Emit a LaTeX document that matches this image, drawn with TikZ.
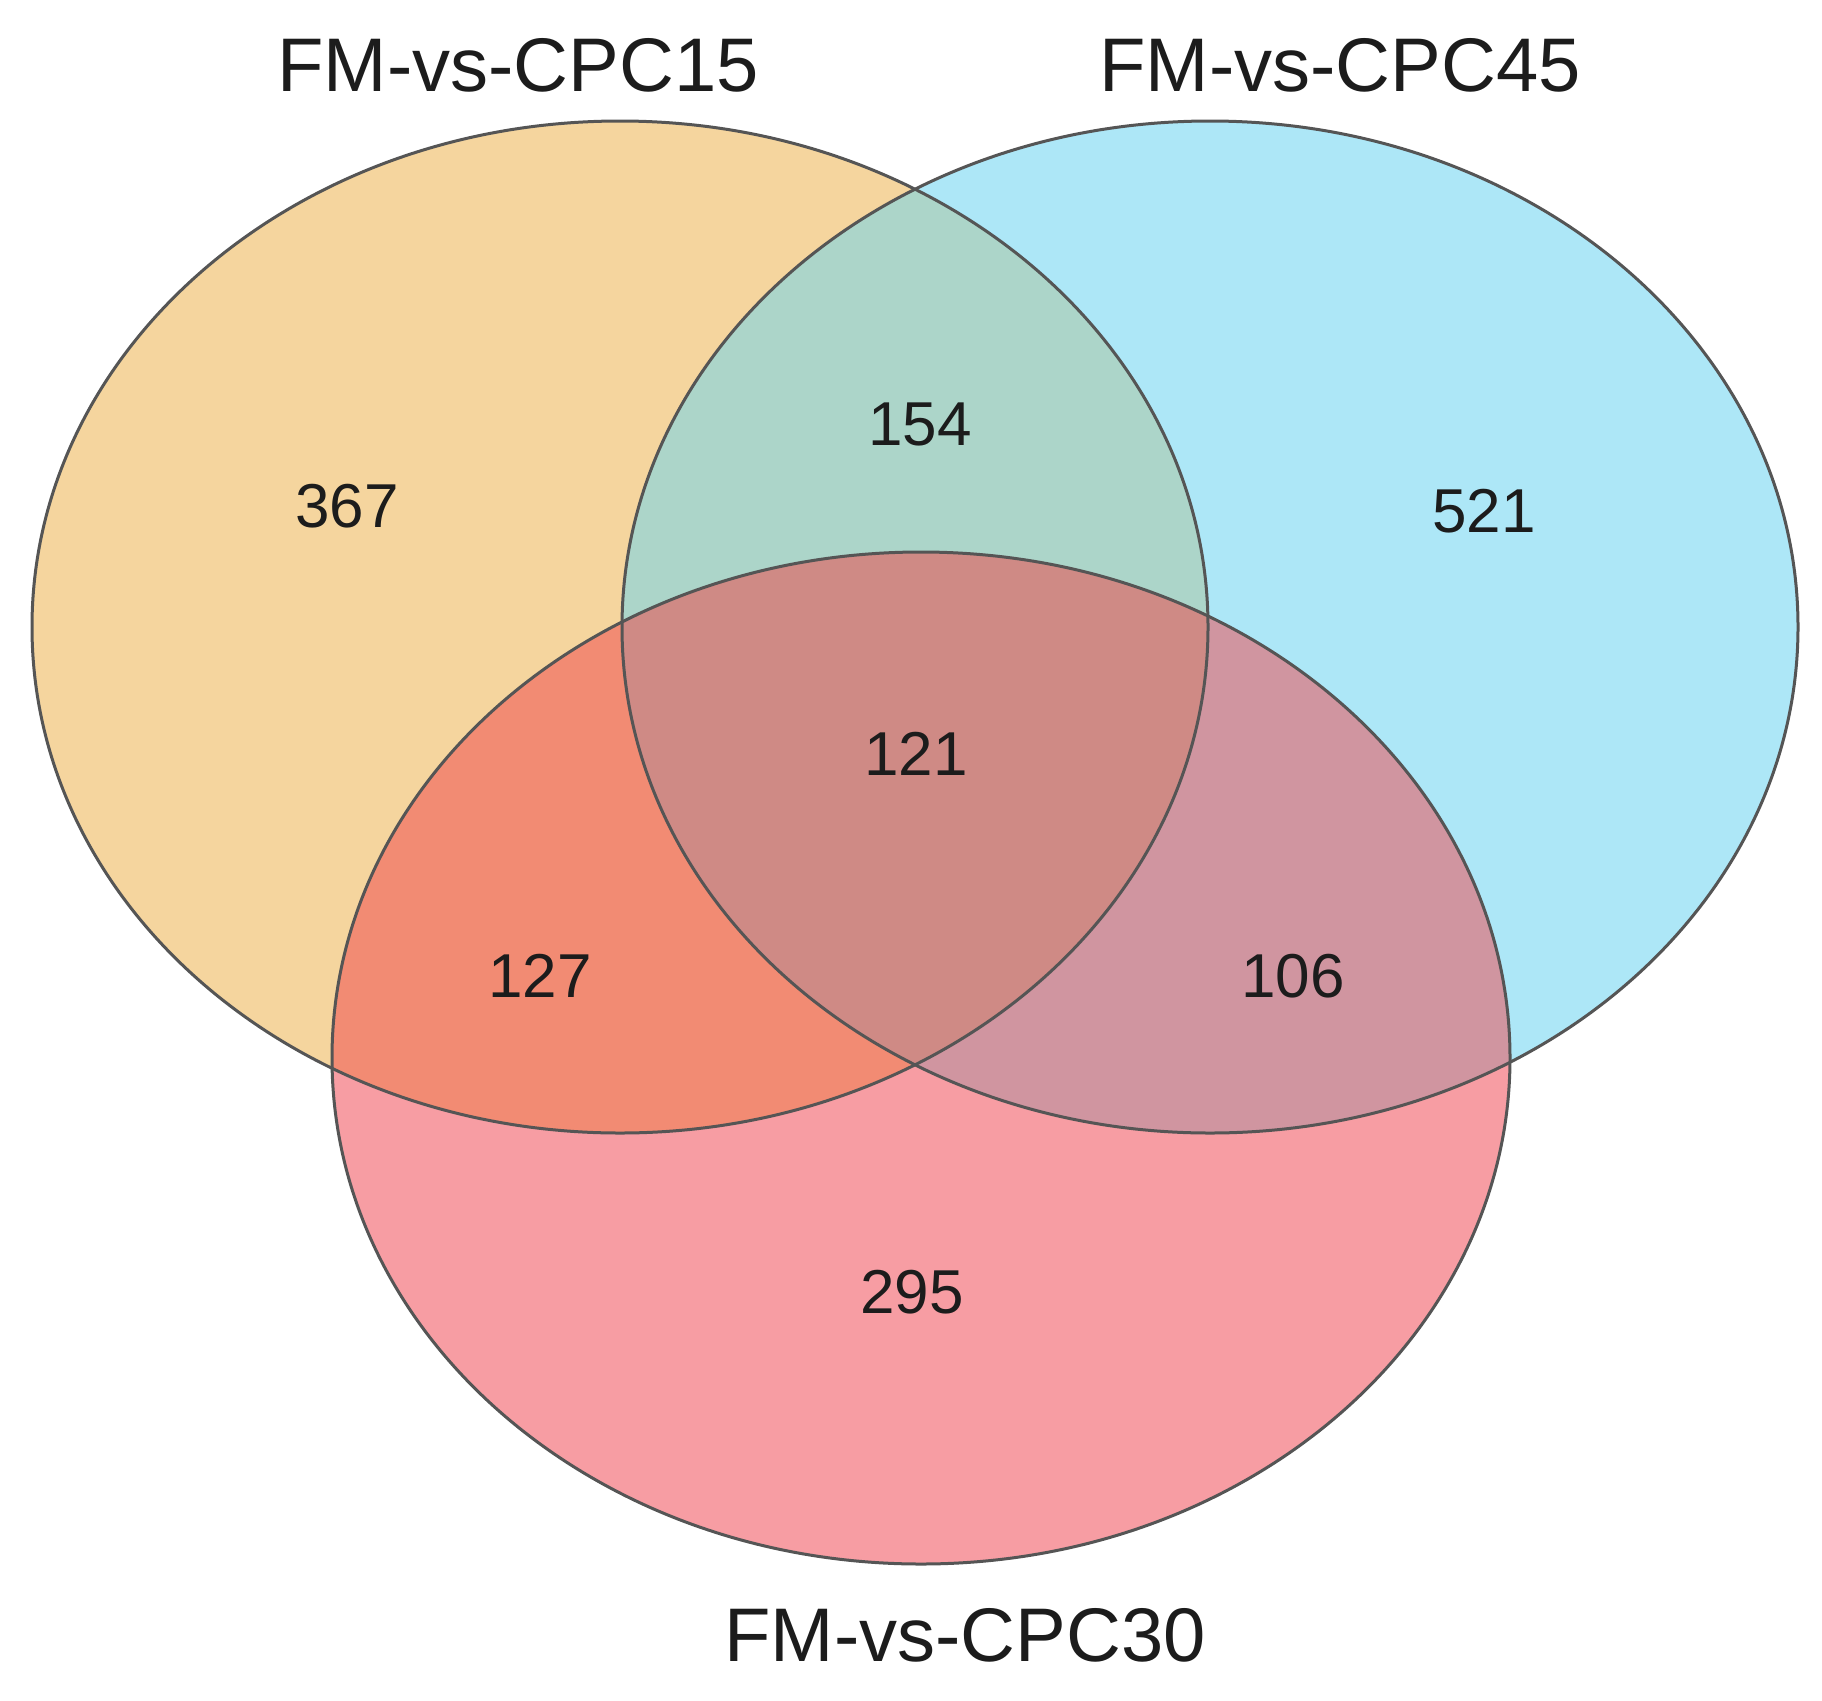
\documentclass[tikz,border=0pt]{standalone}
\usepackage{fontspec}
\setmainfont{Liberation Sans}
\definecolor{cL}{HTML}{F5D59E}
\definecolor{cR}{HTML}{ADE7F7}
\definecolor{cB}{HTML}{F79DA3}
\definecolor{cLR}{HTML}{ACD5C9}
\definecolor{cLB}{HTML}{F28B73}
\definecolor{cRB}{HTML}{D095A0}
\definecolor{cLRB}{HTML}{CF8A85}
\definecolor{edge}{HTML}{555555}
\definecolor{txt}{HTML}{1C1C1C}
\tikzset{
  title/.style={anchor=base,inner sep=0pt,text=txt,font=\fontsize{76}{90}\selectfont},
  count/.style={anchor=base,inner sep=0pt,text=txt,font=\fontsize{62}{74}\selectfont},
  outline/.style={draw=edge,line width=3pt}
}
\begin{document}
\begin{tikzpicture}[x=1pt,y=-1pt]
\useasboundingbox (0,0) rectangle (1822,1700);
\def\ellL{(620,627) ellipse [x radius=588pt, y radius=506pt]}
\def\ellR{(1210,627) ellipse [x radius=588pt, y radius=506pt]}
\def\ellB{(921,1058) ellipse [x radius=589pt, y radius=506pt]}
\fill[cL] \ellL;
\fill[cR] \ellR;
\fill[cB] \ellB;
\begin{scope}
  \clip \ellL;
  \fill[cLR] \ellR;
  \fill[cLB] \ellB;
\end{scope}
\begin{scope}
  \clip \ellR;
  \fill[cRB] \ellB;
\end{scope}
\begin{scope}
  \clip \ellL;
  \clip \ellR;
  \fill[cLRB] \ellB;
\end{scope}
\draw[outline] \ellL;
\draw[outline] \ellR;
\draw[outline] \ellB;
\node[title] (t15) at (518,91) {FM-vs-CPC15};
\node[title] (t45) at (1340,91) {FM-vs-CPC45};
\node[title] (t30) at (965,1661) {FM-vs-CPC30};
\node[count] (n367) at (347,527) {367};
\node[count] (n154) at (920,445) {154};
\node[count] (n521) at (1484,532) {521};
\node[count] (n121) at (916,775) {121};
\node[count] (n127) at (540,997) {127};
\node[count] (n106) at (1293,997) {106};
\node[count] (n295) at (912,1313) {295};
\end{tikzpicture}
\end{document}
